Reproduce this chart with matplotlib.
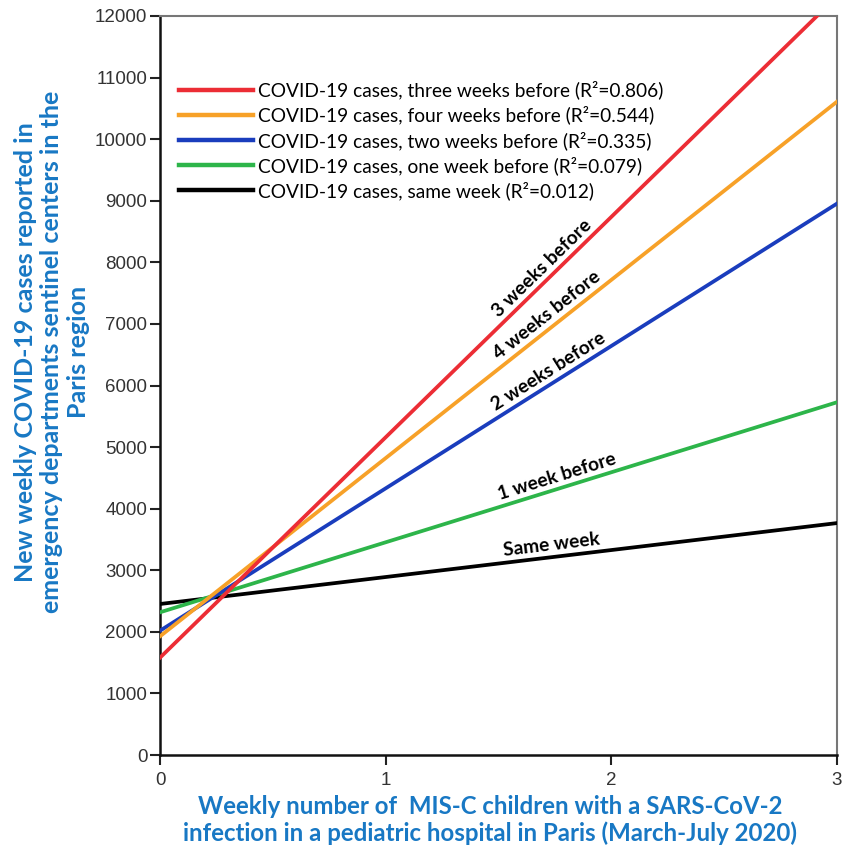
import numpy as np
import matplotlib
matplotlib.use("Agg")
import matplotlib.pyplot as plt

# regression lines: intercept at x=0 and slope per MIS-C child
names = ["COVID-19 cases, three weeks before (R²=0.806)",
         "COVID-19 cases, four weeks before (R²=0.544)",
         "COVID-19 cases, two weeks before (R²=0.335)",
         "COVID-19 cases, one week before (R²=0.079)",
         "COVID-19 cases, same week (R²=0.012)"]
short = ["3 weeks before", "4 weeks before", "2 weeks before", "1 week before", "Same week"]
intercepts = [1580, 1927, 2018, 2317, 2452]
slopes = [3579, 2894, 2312, 1137, 438]
colors = ["#ec2d35", "#f7a128", "#1a3dbd", "#2db54a", "#000000"]
label_x = [1.72, 1.74, 1.74, 1.77, 1.74]

blue_txt = "#1878c4"

fig = plt.figure(figsize=(8.44, 8.49), dpi=100)
ax = fig.add_axes([160 / 844, 1 - 755 / 849, 677 / 844, 739 / 849])

xs = np.array([0, 3])
lines = []
for i in range(len(names)):
    ys = intercepts[i] + slopes[i] * xs
    ln, = ax.plot(xs, ys, color=colors[i], lw=2.7, label=names[i], zorder=3 + (4 - i))
    lines.append(ln)

ax.set_xlim(0, 3)
ax.set_ylim(0, 12000)
ax.set_xticks([0, 1, 2, 3])
ax.set_yticks(np.arange(0, 12001, 1000))
ax.tick_params(axis="both", direction="out", length=7, width=1.5, color="#222222",
               labelsize=13.5, labelcolor="#333333", pad=2)
ax.tick_params(axis="x", pad=5)
for lab in ax.get_xticklabels() + ax.get_yticklabels():
    lab.set_family("Liberation Sans")
for s in ["left", "bottom"]:
    ax.spines[s].set_linewidth(1.8)
    ax.spines[s].set_color("#111111")
for s in ["top", "right"]:
    ax.spines[s].set_linewidth(1.5)
    ax.spines[s].set_color("#777777")

# labels along lines
for i in range(len(names)):
    x = label_x[i]
    y = intercepts[i] + slopes[i] * x
    p1 = ax.transData.transform((0, intercepts[i]))
    p2 = ax.transData.transform((3, intercepts[i] + slopes[i] * 3))
    ang = np.degrees(np.arctan2(p2[1] - p1[1], p2[0] - p1[0]))
    ax.annotate(short[i], (x, y), xytext=(0, 3), textcoords="offset points",
                rotation=ang, rotation_mode="anchor", ha="center", va="bottom",
                fontsize=13.8, fontweight="bold", family="Lato", color="black")

leg = ax.legend(handles=lines, loc="upper left", bbox_to_anchor=(169 / 844, 1 - 71 / 849),
                bbox_transform=fig.transFigure, frameon=False, handlelength=3.9,
                handletextpad=0.25, labelspacing=0.33, borderpad=0,
                prop={"family": "Lato", "size": 13.8})
for h in leg.legend_handles:
    h.set_linewidth(3.2)

fig.text(490 / 844, 1 - 820 / 849, "Weekly number of  MIS-C children with a SARS-CoV-2\n"
         "infection in a pediatric hospital in Paris (March-July 2020)",
         ha="center", va="center", fontsize=17.3, fontweight="bold", family="Lato",
         color=blue_txt, linespacing=1.2)
fig.text(52 / 844, 1 - 352 / 849, "New weekly COVID-19 cases reported in\n"
         "emergency departments sentinel centers in the\nParis region",
         ha="center", va="center", rotation=90, fontsize=18, fontweight="bold",
         family="Lato", color=blue_txt, linespacing=1.2, multialignment="center")

fig.savefig("out.png", dpi=100)
